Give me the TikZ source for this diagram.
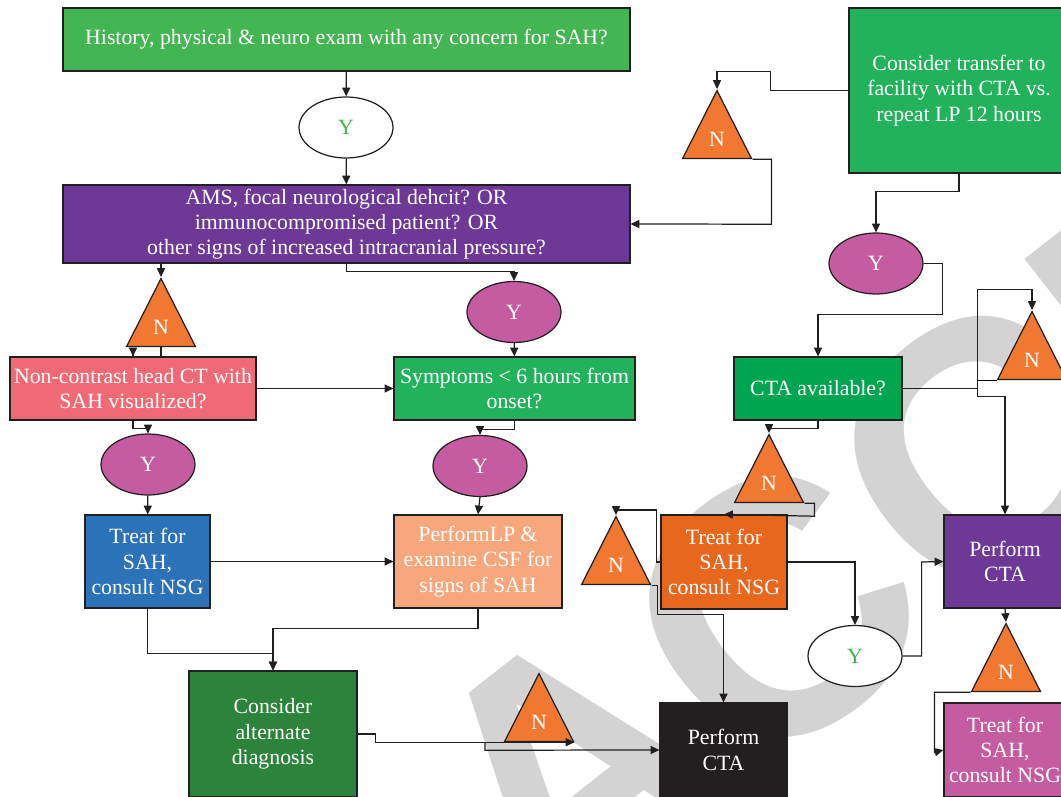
\documentclass[tikz,border=0pt]{standalone}
\usepackage{fontspec}
\setmainfont{Liberation Serif}
\newfontfamily\markfont{Liberation Sans}
\usetikzlibrary{shapes.geometric,arrows.meta}

\definecolor{histgreen}{HTML}{44B553}
\definecolor{midgreen}{HTML}{22B25C}
\definecolor{ctagreen}{HTML}{00A551}
\definecolor{altgreen}{HTML}{2C843C}
\definecolor{amspurple}{HTML}{6E3996}
\definecolor{yespink}{HTML}{C55BA1}
\definecolor{ctred}{HTML}{F06A75}
\definecolor{treatblue}{HTML}{2B72B9}
\definecolor{lppeach}{HTML}{F7A77B}
\definecolor{treatorange}{HTML}{E8671F}
\definecolor{noorange}{HTML}{F07830}
\definecolor{inkblack}{HTML}{231F20}
\definecolor{ygreen}{HTML}{3DB54A}
\definecolor{markgray}{HTML}{D3D3D3}

\tikzset{
    flowbox/.style={rectangle, draw=inkblack, line width=0.7pt, text=white, align=center, inner sep=0pt, font={\fontsize{12.4}{14.4}\selectfont}},
    yesoval/.style={ellipse, draw=inkblack, line width=0.7pt, fill=yespink, text=white, minimum width=1.88cm, minimum height=1.22cm, inner sep=0pt, font={\fontsize{12.4}{14.4}\selectfont}},
    yesopen/.style={yesoval, fill=white, text=ygreen},
    notri/.style={isosceles triangle, isosceles triangle stretches, shape border rotate=90, minimum width=1.38cm, minimum height=1.36cm, draw=inkblack, line width=0.7pt, fill=noorange, text=white, inner sep=0pt, anchor=apex, font={\fontsize{12.4}{14.4}\selectfont}},
    arr/.style={-{Stealth[length=5pt,width=4.6pt,inset=0pt]}, draw=inkblack, line width=0.7pt}
}

\begin{document}
\begin{tikzpicture}[x=0.02cm, y=-0.02cm]
            \useasboundingbox (0,0) rectangle (1061,797);

            \begin{scope}
                \clip (0,0) rectangle (1061,797);
                \node[rotate=38, anchor=base west, inner sep=0pt, text=markgray, font={\markfont\bfseries\fontsize{205}{205}\selectfont}] (mark) at (543,950) {ACCEPTED};
            \end{scope}

            \node[flowbox, fill=histgreen, minimum width=11.34cm, minimum height=1.26cm] (hist) at (346.5,39.5) {History, physical \& neuro exam with any concern for SAH?};
            \node[yesopen] (y1) at (346,127.5) {Y};
            \node[flowbox, fill=amspurple, minimum width=11.34cm, minimum height=1.56cm] (ams) at (346.5,224) {AMS, focal neurological dehcit? OR\\immunocompromised patient? OR\\other signs of increased intracranial pressure?};

            \node[notri] (n1) at (161,277) {N};
            \node[flowbox, fill=ctred, minimum width=4.92cm, minimum height=1.26cm] (nc) at (133,388.5) {Non-contrast head CT with\\SAH visualized?};
            \node[yesoval] (y2) at (514,312) {Y};
            \node[flowbox, fill=midgreen, minimum width=4.82cm, minimum height=1.26cm] (sym) at (514.5,388.5) {Symptoms < 6 hours from\\onset?};

            \node[yesoval] (y3) at (148,464.5) {Y};
            \node[yesoval] (y4) at (480,466) {Y};
            \node[flowbox, fill=treatblue, minimum width=2.5cm, minimum height=1.86cm] (tr1) at (147.5,561.5) {Treat for\\SAH,\\consult NSG};
            \node[flowbox, fill=lppeach, minimum width=3.36cm, minimum height=1.86cm] (lp) at (478,561.5) {PerformLP \&\\examine CSF for\\signs of SAH};
            \node[flowbox, fill=altgreen, minimum width=3.36cm, minimum height=2.52cm] (alt) at (273,734) {Consider\\alternate\\diagnosis};
            \node[notri] (n4) at (539,672) {N};
            \node[flowbox, fill=inkblack, minimum width=2.54cm, minimum height=1.88cm] (cta1) at (723.5,750) {Perform\\CTA};

            \node[flowbox, fill=midgreen, minimum width=4.4cm, minimum height=3.3cm] (tf) at (959,90.5) {Consider transfer to\\facility with CTA vs.\\repeat LP 12 hours};
            \node[notri] (n2) at (717,89) {N};
            \node[yesoval] (y5) at (876,263.5) {Y};
            \node[flowbox, fill=ctagreen, minimum width=3.36cm, minimum height=1.26cm] (cta) at (818,388.5) {CTA available?};
            \node[notri] (n5) at (1032,310) {N};
            \node[notri] (n6) at (769,433) {N};
            \node[notri] (n7) at (616,515) {N};
            \node[flowbox, fill=treatorange, minimum width=2.52cm, minimum height=1.88cm] (tr2) at (724,562) {Treat for\\SAH,\\consult NSG};
            \node[yesopen] (y6) at (855,656) {Y};
            \node[flowbox, fill=amspurple, minimum width=2.44cm, minimum height=1.86cm] (pcta) at (1005,561.5) {Perform\\CTA};
            \node[notri] (n8) at (1006,622) {N};
            \node[flowbox, fill=yespink, minimum width=2.44cm, minimum height=1.88cm] (tr3) at (1005,750) {Treat for\\SAH,\\consult NSG};

            \draw[arr] (hist) -- (y1);
            \draw[arr] (y1) -- (ams);
            \draw[arr] (ams.south -| n1.apex) -- (n1.apex);
            \draw[arr] (n1.south) -- ++(0,9) -| (nc.north);
            \draw[arr] (ams.south) -- ++(0,8) -| (y2.north);
            \draw[arr] (y2) -- (sym);
            \draw[arr] (nc) -- (sym);
            \draw[arr] (nc.south) -- ++(0,8) -| (y3.north);
            \draw[arr] (y3) -- (tr1);
            \draw[arr] (tr1) -- (lp);
            \draw[arr] (sym.south) -- ++(0,9) -| (y4.north);
            \draw[arr] (y4.south) -- (lp.north);
            \draw[arr] (tr1.south) -- ++(0,45) -| (alt.north);
            \draw[arr] (lp.south) -- ++(0,20) -| (alt.north);
            \draw[arr] (alt.east) -- ++(18,0) |- (n4.right corner);
            \draw[arr] (n4.south) ++(-54,0) -- ++(0,8) -- (cta1.west);

            \draw[arr] (tf.west) -| ++(-78,-19) -| (n2.apex);
            \draw[arr] (n2.right corner) -| ++(19,65) -- (ams.east);
            \draw[arr] (tf.south) -- ++(0,18) -| (y5.north);
            \draw[arr] (y5.east) -| ++(19,51) -| (cta.north);
            \draw[arr] (cta.east) -| ++(75,-99) -| (n5.apex);
            \draw (n5.left corner) -- ++(-20,0);
            \draw[arr] (cta.east) ++(75,0) -- ++(0,8) -| (pcta.north);
            \draw[arr] (cta.south) -- ++(0,8) -| (n6.apex);
            \draw[arr] (n6.right corner) -| ++(10,13) -- (tr2.north);
            \draw[arr] (tr2.west) -| ++(-4,-52) -| (n7.apex);
            \draw[arr] (n7.right corner) -| ++(6,29) -| (cta1.north);
            \draw[arr] (tr2.east) -| (y6.north);
            \draw[arr] (y6.east) -| ++(19,-94) -- (pcta.west);
            \draw[arr] (pcta.south) -- (n8.apex);
            \draw[arr] (n8.left corner) -| ++(-36,60) -- (tr3.west);
        \end{tikzpicture}
\end{document}
